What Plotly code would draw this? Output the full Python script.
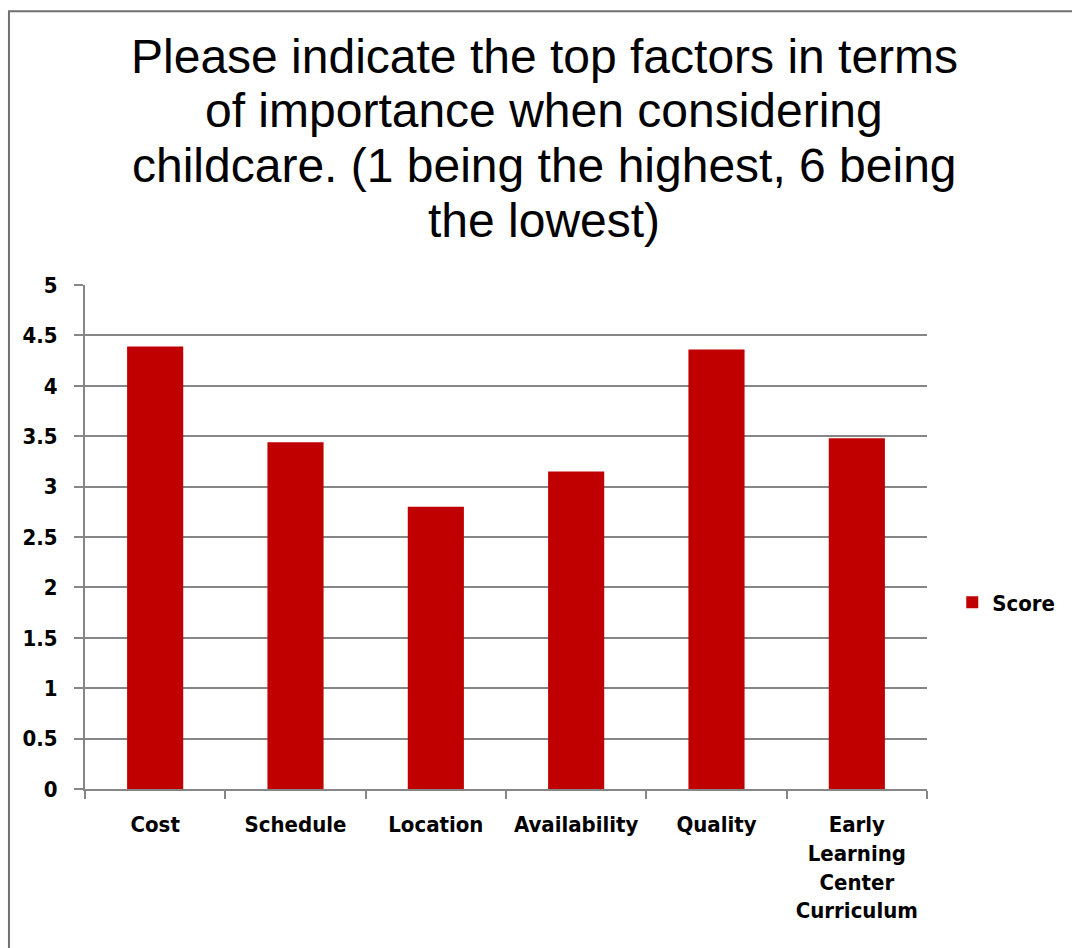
import plotly.graph_objects as go

# Survey results: average ranking score per childcare factor
categories = ["Cost", "Schedule", "Location", "Availability", "Quality",
              "Early<br>Learning<br>Center<br>Curriculum"]
scores = [4.39, 3.44, 2.80, 3.15, 4.36, 3.48]
y_ticks = [0, 0.5, 1, 1.5, 2, 2.5, 3, 3.5, 4, 4.5, 5]
y_tick_labels = ["0", "0.5", "1", "1.5", "2", "2.5", "3", "3.5", "4", "4.5", "5"]

title_lines = [
    "Please indicate the top factors in terms",
    "of importance when considering",
    "childcare. (1 being the highest, 6 being",
    "the lowest)",
]

BAR_RED = "#C00000"
GRID = "#868686"
LABEL_FONT = dict(family="DejaVu Sans Condensed, Liberation Sans Narrow, Arial Narrow, sans-serif",
                  size=22, color="black", weight="bold")

fig = go.Figure()
fig.add_trace(go.Bar(
    x=categories, y=scores, name="Score",
    marker=dict(color=BAR_RED, line=dict(width=0)),
))

fig.update_layout(
    width=1072, height=948,
    paper_bgcolor="white", plot_bgcolor="white",
    margin=dict(l=85, r=145, t=285, b=159, autoexpand=False),
    bargap=0.6,
    showlegend=True,
    legend=dict(x=1.03, y=0.37, xanchor="left", yanchor="middle",
                font=LABEL_FONT, bgcolor="rgba(0,0,0,0)"),
    xaxis=dict(
        showline=True, linecolor=GRID, linewidth=2,
        ticks="outside", tickson="boundaries", ticklen=8, tickcolor=GRID, tickwidth=2,
        tickfont=LABEL_FONT, showgrid=False, tickangle=0, automargin=False,
        ticklabelstandoff=15,
    ),
    yaxis=dict(
        range=[0, 5], tickvals=y_ticks, ticktext=y_tick_labels,
        showline=True, linecolor=GRID, linewidth=2,
        ticks="outside", ticklen=9, tickcolor=GRID, tickwidth=2,
        showgrid=True, gridcolor=GRID, gridwidth=2,
        zeroline=False, tickfont=LABEL_FONT, ticklabelstandoff=12, automargin=False,
    ),
)

# Four-line centred heading with slide-style line spacing
line_px = [56, 111, 166, 220]
plot_top, plot_bottom = 285, 789
for text, py in zip(title_lines, line_px):
    fig.add_annotation(
        text=text, xref="paper", yref="paper",
        x=(544 - 85) / (927 - 85), y=(plot_bottom - py) / (plot_bottom - plot_top),
        xanchor="center", yanchor="middle", showarrow=False,
        font=dict(family="Liberation Sans, Arial, sans-serif", size=48, color="black"),
    )

# Outer chart frame (left and top edges fall inside the page)
fig.add_shape(type="rect", xref="paper", yref="paper",
              x0=-0.0903, x1=1.3, y0=-0.5, y1=1.543,
              line=dict(color="#707070", width=2), fillcolor="rgba(0,0,0,0)",
              layer="below")

fig.write_html("out.html")
